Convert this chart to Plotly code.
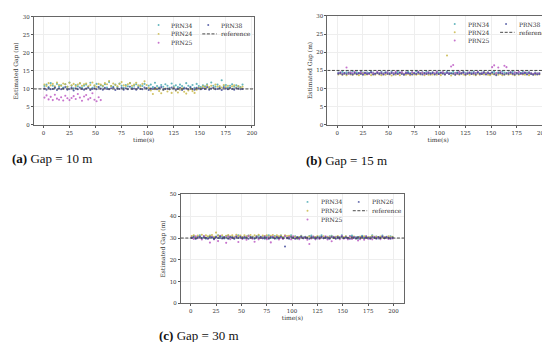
import plotly.graph_objects as go

W, H = 550, 342

# ---------------- data ----------------
names_ab = ["PRN34", "PRN24", "PRN25", "PRN38"]
names_c = ["PRN34", "PRN24", "PRN25", "PRN26"]
colors = ["#4aa9b3", "#c9b84a", "#bd5cc4", "#474f9e"]
x_ticks = [0, 25, 50, 75, 100, 125, 150, 175, 200]

time_a = list(range(1, 193, 2))
time_b = list(range(1, 199, 2))
time_c = list(range(1, 201, 2))

ref_a = 10
ref_b = 15
ref_c = 30

a_prn34 = [10.8, 11.2, 10.5, 11.6, 10.9, 10.3, 11.4, 10.7, 11.0, 10.4, 11.3, 10.6, 11.8, 10.9, 10.2, 11.1,
           10.7, 11.5, 10.4, 10.9, 11.2, 10.6, 11.7, 10.3, 10.8, 11.4, 10.5, 11.0, 10.7, 11.3, 10.4, 11.9,
           10.8, 10.6, 11.2, 10.5, 11.5, 10.9, 10.3, 11.1, 10.7, 11.6, 10.4, 10.9, 11.3, 10.6, 11.0, 10.8,
           11.4, 10.2, 10.9, 11.2, 10.5, 11.7, 10.8, 10.4, 11.1, 10.6, 11.3, 10.9, 10.3, 11.5, 10.7, 11.0,
           10.5, 11.2, 10.8, 10.4, 11.6, 10.9, 10.6, 11.1, 10.3, 11.4, 10.8, 10.5, 11.0, 10.7, 11.3, 10.4,
           11.8, 10.9, 10.6, 11.2, 10.5, 12.4, 10.8, 11.1, 10.4, 10.9, 11.3, 10.6, 11.0, 10.7, 10.5, 11.2]
a_prn24 = [11.2, 10.8, 11.6, 11.0, 11.4, 10.7, 11.8, 11.1, 10.9, 11.5, 11.3, 10.6, 11.7, 11.0, 11.4, 10.8,
           11.2, 11.6, 10.9, 11.3, 11.5, 10.7, 11.1, 11.8, 11.0, 10.6, 11.4, 11.2, 10.9, 11.6, 11.3, 12.2,
           10.8, 11.5, 11.1, 10.7, 11.4, 11.9, 11.0, 10.8, 11.3, 11.6, 10.9, 11.2, 11.7, 11.0, 10.7, 11.4,
           12.1, 11.1, 10.3, 9.6, 8.6, 9.9, 10.2, 9.4, 8.8, 9.7, 10.1, 9.3, 9.9, 8.9, 10.4, 9.5,
           9.0, 9.8, 10.2, 9.2, 8.7, 9.6, 10.0, 9.4, 8.9, 9.8, 10.3, 10.2, 10.7, 10.4, 11.0, 10.5,
           10.9, 10.3, 11.2, 10.6, 10.8, 10.4, 11.1, 10.5, 10.9, 10.2, 10.7, 11.0, 10.4, 10.8, 10.3, 10.6]
a_prn25 = [7.6, 8.2, 7.1, 7.8, 6.9, 8.4, 7.3, 7.0, 7.7, 6.8, 8.1, 7.4, 6.9, 7.5, 8.0, 7.2,
           8.6, 7.6, 6.7, 7.9, 8.3, 7.1, 7.5, 8.8, 7.0, 6.6, 7.7, 6.9]
a_prn38 = [10.1, 9.8, 10.3, 9.9, 10.0, 10.4, 9.7, 10.2, 9.9, 10.1, 10.5, 9.8, 10.0, 10.3, 9.6, 10.2,
           9.9, 10.4, 10.0, 9.8, 10.1, 10.3, 9.7, 10.0, 10.2, 9.9, 10.5, 10.1, 9.8, 10.3, 10.0, 9.9,
           10.2, 10.4, 9.7, 10.1, 10.0, 10.3, 9.8, 10.2, 9.9, 10.6, 10.0, 10.1, 9.8, 10.3, 10.0, 9.9,
           10.4, 10.2, 9.7, 10.1, 10.0, 10.3, 9.9, 10.2, 10.5, 9.8, 10.0, 10.1, 9.9, 10.4, 10.2, 9.8,
           10.0, 10.3, 9.7, 10.1, 10.2, 9.9, 10.4, 10.0, 9.8, 10.3, 10.1, 9.9, 10.2, 10.0, 10.5, 9.8,
           10.1, 10.3, 9.9, 10.0, 10.2, 9.7, 10.4, 10.1, 9.9, 10.3, 10.0, 9.8, 10.2, 10.1, 9.9, 10.0]

b_prn34 = [14.4, 14.2, 14.6, 14.3, 14.5, 14.1, 14.4, 14.7, 14.2, 14.5, 14.3, 14.6, 14.4, 14.2, 14.5, 14.3,
           14.7, 14.4, 14.1, 14.5, 14.3, 14.6, 14.2, 14.4, 14.5, 14.3, 14.7, 14.2, 14.4, 14.6, 14.3, 14.5,
           14.1, 14.4, 14.6, 14.3, 14.5, 14.2, 14.7, 14.4, 14.3, 14.5, 14.2, 14.6, 14.4, 14.3, 14.5, 14.1,
           14.6, 14.4, 14.2, 14.5, 14.3, 14.7, 14.4, 14.2, 14.6, 14.3, 14.5, 14.4, 14.1, 14.6, 14.3, 14.5,
           14.2, 14.4, 14.7, 14.3, 14.5, 14.2, 14.4, 14.6, 14.3, 14.5, 14.1, 14.4, 14.6, 14.2, 14.5, 14.3,
           14.7, 14.4, 14.2, 14.5, 14.3, 14.6, 14.4, 14.1, 14.5, 14.3, 14.6, 14.2, 14.4, 14.5, 14.3, 14.1,
           14.4, 14.2, 14.3]
b_prn24 = [13.9, 14.1, 13.8, 14.0, 13.7, 14.2, 13.9, 13.8, 14.1, 13.9, 13.7, 14.0, 14.2, 13.8, 13.9, 14.1,
           13.7, 14.0, 13.8, 14.2, 13.9, 13.7, 14.1, 13.8, 14.0, 13.9, 13.6, 14.1, 13.8, 14.0, 13.7, 14.2,
           13.9, 13.8, 14.0, 13.7, 14.1, 13.9, 13.8, 14.0, 13.9, 14.2, 13.7, 14.0, 13.8, 13.8, 13.9, 14.1,
           13.8, 14.0, 13.7, 14.2, 13.9, 19.1, 14.0, 13.6, 14.1, 13.9, 14.0, 13.8, 14.2, 13.9, 13.7, 14.1,
           13.8, 14.0, 13.9, 13.7, 14.1, 13.8, 14.0, 13.9, 14.2, 13.8, 13.7, 14.0, 13.9, 14.1, 13.8, 14.0,
           13.7, 13.9, 14.1, 13.8, 14.0, 13.9, 13.7, 14.2, 13.8, 14.0, 13.9, 13.8, 14.1, 13.7, 14.0, 13.9,
           13.8, 14.1, 13.9]
b_prn25 = [14.2, 14.5, 14.0, 14.3, 15.8, 14.1, 14.4, 14.2, 14.6, 14.0, 14.3, 14.5, 14.1, 14.4, 14.2, 14.0,
           14.5, 14.3, 14.1, 14.6, 14.2, 14.4, 14.0, 14.3, 14.5, 14.1, 14.4, 14.2, 14.6, 14.0, 14.3, 14.5,
           14.1, 14.4, 14.2, 14.0, 14.5, 14.3, 14.1, 14.6, 14.2, 14.4, 14.0, 14.3, 14.5, 14.1, 14.4, 14.2,
           14.6, 14.0, 14.3, 14.5, 14.1, 14.4, 14.2, 16.1, 16.5, 14.3, 14.1, 14.6, 14.2, 14.4, 14.0, 14.3,
           14.5, 14.1, 14.4, 14.2, 14.6, 14.0, 14.3, 14.5, 14.1, 14.4, 14.2, 15.9, 16.4, 14.3, 15.8, 14.6,
           14.2, 16.3, 15.9, 14.3, 14.5, 14.1, 14.4, 14.2, 14.6, 14.0, 14.3, 14.5, 14.1, 14.4, 14.2, 14.0,
           14.3, 14.1, 14.2]
b_prn38 = [14.1, 14.3, 13.9, 14.2, 14.0, 14.4, 14.1, 13.9, 14.3, 14.0, 14.2, 14.1, 13.8, 14.3, 14.0, 14.2,
           14.4, 13.9, 14.1, 14.3, 14.0, 14.2, 13.9, 14.4, 14.1, 14.0, 14.3, 13.9, 14.2, 14.1, 14.4, 14.0,
           13.8, 14.2, 14.3, 14.1, 13.9, 14.2, 14.0, 14.4, 14.1, 13.9, 14.3, 14.0, 14.2, 14.1, 14.3, 13.9,
           14.2, 14.0, 14.4, 14.1, 13.9, 14.3, 14.0, 14.2, 14.1, 13.8, 14.3, 14.0, 14.2, 14.4, 13.9, 14.1,
           14.3, 14.0, 14.2, 13.9, 14.4, 14.1, 14.0, 14.3, 13.9, 14.2, 14.1, 14.4, 14.0, 13.7, 14.2, 14.3,
           14.1, 13.9, 14.2, 14.0, 14.4, 14.1, 13.9, 14.3, 14.0, 14.2, 14.1, 14.3, 13.9, 14.2, 14.0, 13.8,
           14.1, 13.9, 14.0]

c_prn34 = [30.4, 31.0, 29.8, 30.6, 31.2, 30.1, 30.8, 29.7, 30.5, 31.1, 30.3, 29.9, 30.7, 31.3, 30.0, 30.6,
           29.8, 30.9, 31.0, 30.2, 30.5, 29.7, 30.8, 31.2, 30.1, 30.4, 29.9, 30.7, 31.1, 30.3, 30.6, 29.8,
           30.9, 31.0, 30.2, 30.5, 29.7, 30.8, 31.3, 30.0, 30.4, 30.9, 29.8, 30.6, 31.1, 30.2, 30.7, 29.9,
           30.5, 31.2, 30.1, 30.8, 29.7, 30.4, 31.0, 30.3, 30.6, 29.9, 30.9, 31.1, 30.2, 30.5, 29.8, 30.7,
           31.2, 30.0, 30.4, 29.7, 30.8, 31.0, 30.3, 30.6, 29.9, 30.5, 31.3, 30.1, 30.7, 29.8, 30.9, 31.1,
           30.2, 30.4, 29.7, 30.6, 31.0, 30.3, 30.8, 29.9, 30.5, 31.2, 30.0, 30.7, 29.8, 30.4, 31.1, 30.2,
           30.6, 29.9, 30.8, 30.3]
c_prn24 = [30.9, 31.3, 30.5, 31.1, 30.7, 31.5, 30.4, 31.2, 30.8, 31.0, 31.4, 30.6, 32.5, 31.1, 30.7, 31.3,
           30.5, 31.0, 31.4, 30.8, 31.2, 30.6, 31.5, 30.9, 31.1, 30.4, 31.3, 30.7, 31.0, 31.4, 30.6, 31.2,
           30.8, 31.5, 30.5, 31.1, 30.9, 31.3, 30.7, 31.0, 31.4, 30.6, 31.2, 30.8, 31.1, 30.5, 31.3, 30.9,
           31.0, 30.7, 30.2, 30.6, 29.9, 30.4, 30.8, 30.1, 30.5, 30.3, 30.7, 30.0, 30.6, 30.4, 30.9, 30.2,
           30.5, 30.8, 30.1, 30.6, 30.3, 30.7, 30.0, 30.5, 30.9, 30.2, 30.6, 30.4, 30.8, 30.1, 30.5, 30.3,
           30.7, 29.8, 30.4, 30.6, 30.2, 30.8, 30.0, 30.5, 30.3, 30.9, 30.1, 30.6, 30.4, 30.7, 30.2, 30.5,
           30.0, 30.8, 30.3, 30.6]
c_prn25 = [30.2, 29.6, 30.8, 29.9, 30.5, 29.3, 30.9, 30.1, 29.7, 27.9, 30.6, 29.4, 30.3, 28.6, 31.0, 29.8,
           30.4, 27.8, 30.7, 29.5, 30.2, 29.9, 30.8, 28.2, 30.1, 29.6, 30.5, 29.2, 30.9, 30.0, 29.7, 28.3,
           30.6, 29.4, 30.2, 29.9, 30.8, 29.5, 30.3, 28.0, 30.7, 29.8, 30.4, 29.3, 30.1, 29.6, 30.9, 29.9,
           30.5, 29.4, 30.8, 29.7, 30.2, 29.5, 30.6, 29.9, 30.3, 29.2, 27.3, 29.8, 30.7, 29.4, 30.1, 29.6,
           30.5, 29.9, 30.8, 29.3, 30.2, 28.5, 30.6, 29.7, 30.4, 29.5, 30.9, 29.8, 30.1, 29.4, 30.7, 29.6,
           30.3, 29.9, 28.9, 29.5, 30.5, 29.2, 30.8, 29.7, 30.0, 29.4, 30.6, 29.8, 30.2, 29.5, 30.7, 29.9,
           30.4, 29.6, 30.1, 29.8]
c_prn26 = [30.0, 30.4, 29.7, 30.2, 30.6, 29.9, 30.3, 30.1, 29.8, 30.5, 30.2, 29.6, 30.4, 30.0, 30.7, 29.9,
           30.3, 30.1, 29.7, 30.5, 30.2, 29.8, 30.4, 30.0, 30.6, 29.9, 30.3, 30.1, 29.7, 30.5, 30.2, 29.8,
           30.4, 30.0, 30.6, 29.9, 30.3, 30.1, 29.7, 30.5, 30.2, 29.8, 30.4, 30.0, 30.6, 29.9, 26.1, 30.1,
           29.7, 30.5, 30.2, 29.8, 30.4, 30.0, 30.6, 29.9, 30.3, 30.1, 29.7, 30.5, 30.2, 29.8, 30.4, 30.0,
           30.6, 29.9, 30.3, 30.1, 29.7, 30.5, 30.2, 29.8, 30.4, 30.0, 30.6, 29.9, 30.3, 30.1, 29.7, 30.5,
           30.2, 29.8, 30.4, 30.0, 30.6, 29.9, 30.3, 30.1, 29.7, 30.5, 30.2, 29.8, 30.4, 30.0, 30.6, 29.9,
           30.3, 30.1, 29.7, 30.2]

captions = ["(a)", "(b)", "(c)"]
caption_text = ["Gap = 10 m", "Gap = 15 m", "Gap = 30 m"]

# ---------------- layout helpers ----------------
def fx(p):
    return p / W


def fy(p):
    return 1 - p / H


panels = [
    dict(ax="", series=[a_prn34, a_prn24, a_prn25, a_prn38], names=names_ab, time=time_a, ref=ref_a,
         box=(26, 247.5, 6, 116), xr=[-9.2, 201.7], yr=[0, 30], dy=5,
         leg=(151.7, 162.5, 201.7, 213, 14.3, 9.0),
         cap=(2.5, 150.0)),
    dict(ax="2", series=[b_prn34, b_prn24, b_prn25, b_prn38], names=names_ab, time=time_b, ref=ref_b,
         box=(321.7, 545, 5, 116), xr=[-9.7, 206.5], yr=[0, 30], dy=5,
         leg=(450, 461.7, 501.7, 512.3, 13.3, 8.4),
         cap=(298, 152.0)),
    dict(ax="3", series=[c_prn34, c_prn24, c_prn25, c_prn26], names=names_c, time=time_c, ref=ref_c,
         box=(174, 399, 186.7, 297.7), xr=[-9.8, 210.4], yr=[0, 50], dy=10,
         leg=(301.7, 313.3, 353.3, 364.3, 194.3, 9.0),
         cap=(150, 330.0)),
]

fig = go.Figure()
annotations = []
shapes = []
layout = dict(width=W, height=H, margin=dict(l=0, r=0, t=0, b=0),
              paper_bgcolor="white", plot_bgcolor="white", showlegend=False,
              font=dict(family="DejaVu Serif, serif", color="#222"))

tick_font = dict(family="DejaVu Serif, serif", size=5.5, color="#333")
title_font = dict(family="DejaVu Serif, serif", size=6, color="#333")
leg_font = dict(family="DejaVu Serif, serif", size=6, color="#333")

for i, p in enumerate(panels):
    xa = "x" + p["ax"]
    ya = "y" + p["ax"]
    for vals, name, col in zip(p["series"], p["names"], colors):
        fig.add_trace(go.Scatter(x=p["time"][:len(vals)], y=vals, mode="markers", name=name,
                                 marker=dict(size=2.1, color=col, opacity=0.85, line=dict(width=0)),
                                 xaxis=xa, yaxis=ya))
    fig.add_trace(go.Scatter(x=p["xr"], y=[p["ref"], p["ref"]], mode="lines", name="reference",
                             line=dict(color="#333", width=0.9, dash="3px,1.6px"),
                             xaxis=xa, yaxis=ya))
    x0, x1, y0, y1 = p["box"]
    layout["xaxis" + p["ax"]] = dict(
        domain=[fx(x0), fx(x1)], range=p["xr"], anchor=ya, tickvals=x_ticks,
        showline=True, mirror=True, linecolor="#666", linewidth=1,
        showgrid=True, gridcolor="#eeeeee", gridwidth=0.6, zeroline=False,
        ticks="outside", ticklen=2, tickwidth=0.6, tickcolor="#555",
        tickfont=tick_font, title=dict(text="time(s)", font=title_font, standoff=1))
    layout["yaxis" + p["ax"]] = dict(
        domain=[fy(y1), fy(y0)], range=p["yr"], anchor=xa, dtick=p["dy"], tick0=0,
        showline=True, mirror=True, linecolor="#666", linewidth=1,
        showgrid=True, gridcolor="#eeeeee", gridwidth=0.6, zeroline=False,
        ticks="outside", ticklen=2, tickwidth=0.6, tickcolor="#555",
        tickfont=tick_font, title=dict(text="Estimated Gap (m)", font=title_font, standoff=3))

    # legend (two columns, column-major like matplotlib ncol=2)
    m1, t1, m2, t2, ly, dyl = p["leg"]
    entries = [(n, c) for n, c in zip(p["names"], colors)]
    col1 = entries[:3]
    col2 = entries[3:]
    for (mx, tx, col) in [(m1, t1, col1), (m2, t2, col2)]:
        for r, (n, c) in enumerate(col):
            yy = ly + r * dyl
            shapes.append(dict(type="circle", xref="paper", yref="paper",
                               x0=fx(mx - 1.0), x1=fx(mx + 1.0), y0=fy(yy + 1.0), y1=fy(yy - 1.0),
                               fillcolor=c, opacity=0.85, line=dict(width=0)))
            annotations.append(dict(x=fx(tx), y=fy(yy), xref="paper", yref="paper", text=n,
                                    showarrow=False, xanchor="left", yanchor="middle", font=leg_font))
    yy = ly + len(col2) * dyl
    shapes.append(dict(type="line", xref="paper", yref="paper",
                       x0=fx(m2 - 6), x1=fx(m2 + 8.5), y0=fy(yy), y1=fy(yy),
                       line=dict(color="#333", width=0.9, dash="3px,1.6px")))
    annotations.append(dict(x=fx(t2), y=fy(yy), xref="paper", yref="paper", text="reference",
                            showarrow=False, xanchor="left", yanchor="middle", font=leg_font))

    cx, cy = p["cap"]
    annotations.append(dict(x=fx(cx), y=fy(cy), xref="paper", yref="paper",
                            text="<b>" + captions[i] + "</b> " + caption_text[i],
                            showarrow=False, xanchor="left", yanchor="middle",
                            font=dict(family="Liberation Serif, serif", size=13, color="#111")))

layout["annotations"] = annotations
layout["shapes"] = shapes
fig.update_layout(**layout)
fig.write_html("out.html")
